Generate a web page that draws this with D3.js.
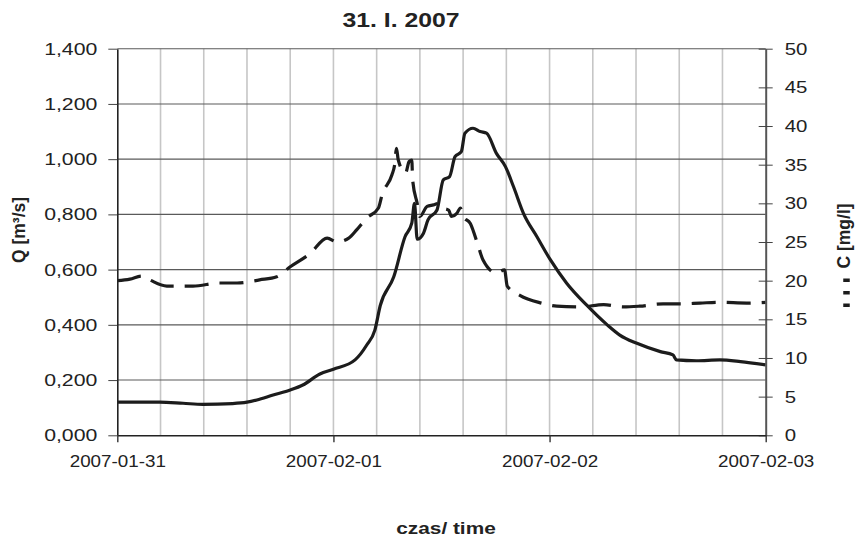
<!DOCTYPE html>
<html>
<head>
<meta charset="utf-8">
<script src="https://cdn.jsdelivr.net/npm/d3@7"></script>
<style>
  html, body { margin: 0; padding: 0; background: #fff; }
  svg { display: block; }
  text { font-family: "Liberation Sans", Arial, sans-serif; fill: #222; }
</style>
</head>
<body>
<svg id="chart" width="855" height="536"></svg>
<script>
// Hours since 2007-01-31 00:00 and discharge Q [m3/s] (solid line)
const qHours = [0, 4.7, 7.3, 9.5, 12.8, 14.4, 15.5, 17.3, 19.2, 20.6, 22.5, 24.0, 26.4, 27.7, 28.6, 29.2,
  30.7, 31.95, 32.7, 33.0, 33.3, 34.0, 34.5, 35.5, 36.2, 36.9, 37.5, 38.2, 38.6, 39.5, 40.3, 41.0,
  42.1, 43.1, 44.0, 45.1, 46.6, 48.1, 49.9, 52.1, 54.4, 55.8, 57.7, 60.3, 61.7, 62.1, 64.3, 66.9, 69.2, 72];
const qValues = [0.120, 0.120, 0.116, 0.112, 0.115, 0.120, 0.128, 0.146, 0.164, 0.182, 0.222, 0.239, 0.273, 0.327, 0.381, 0.470,
  0.574, 0.719, 0.768, 0.840, 0.710, 0.732, 0.780, 0.816, 0.925, 0.937, 1.009, 1.027, 1.094, 1.112, 1.100, 1.094,
  1.021, 0.973, 0.900, 0.804, 0.719, 0.635, 0.551, 0.472, 0.400, 0.363, 0.333, 0.303, 0.291, 0.273, 0.270, 0.273, 0.267, 0.255];

// Hours and concentration C [mg/l] (dashed line)
const cHours = [0, 1.4, 2.7, 3.6, 5.5, 8.4, 11.4, 13.3, 15.8, 17.7, 19.2, 21.4, 23.3, 24.4, 25.7, 26.6,
  27.7, 29.0, 29.4, 30.5, 30.8, 31.0, 31.2, 32.0, 32.4, 32.7, 32.8, 33.3, 33.6, 34.4, 35.1, 35.7,
  36.2, 36.8, 37.1, 37.7, 38.1, 38.4, 39.2, 40.1, 40.6, 42.1, 43.0, 43.3, 44.7, 47.1, 48.8, 51.4,
  54.0, 56.2, 58.0, 60.6, 62.5, 64.7, 66.9, 69.9, 72];
const cValues = [20.0, 20.2, 20.6, 20.1, 19.3, 19.3, 19.7, 19.7, 20.1, 20.5, 21.8, 23.5, 25.5, 25.0, 25.5, 26.6,
  28.1, 29.4, 31.1, 33.7, 35.0, 37.1, 35.6, 33.9, 35.4, 35.6, 33.0, 30.0, 28.3, 29.6, 29.8, 30.0,
  29.4, 29.1, 28.3, 28.7, 29.4, 28.3, 27.4, 24.4, 22.7, 21.0, 21.4, 19.3, 18.1, 17.1, 16.7, 16.6,
  16.9, 16.6, 16.7, 17.0, 17.0, 17.1, 17.2, 17.1, 17.2];

const dateLabels = ["2007-01-31", "2007-02-01", "2007-02-02", "2007-02-03"];
const qTicks = [0, 0.2, 0.4, 0.6, 0.8, 1.0, 1.2, 1.4];
const cTicks = [0, 5, 10, 15, 20, 25, 30, 35, 40, 45, 50];

const margin = { left: 117.3, right: 855 - 765.7, top: 48.7, bottom: 536 - 435.3 };
const width = 855, height = 536;
const plotW = width - margin.left - margin.right;
const plotH = height - margin.top - margin.bottom;

const svg = d3.select("#chart");
const g = svg.append("g").attr("transform", `translate(${margin.left},${margin.top})`);

const x = d3.scaleLinear().domain([0, 72]).range([0, plotW]);
const yQ = d3.scaleLinear().domain([0, 1.4]).range([plotH, 0]);
const yC = d3.scaleLinear().domain([0, 50]).range([plotH, 0]);

// stretch text horizontally, the scanned figure is wider than plain Arial
function stretch(sel, factor) {
    sel.each(function () {
        const len = this.getComputedTextLength();
        d3.select(this).attr("textLength", len * factor).attr("lengthAdjust", "spacingAndGlyphs");
    });
}

// Vertical grid every 0.2 day
g.append("g").selectAll("line")
    .data(d3.range(1, 15).map(i => i * 4.8))
    .join("line")
    .attr("x1", d => x(d)).attr("x2", d => x(d))
    .attr("y1", 0).attr("y2", plotH)
    .attr("stroke", "#c6c6c6").attr("stroke-width", 1.6);

// Horizontal grid
g.append("g").selectAll("line")
    .data(qTicks.slice(1))
    .join("line")
    .attr("x1", 0).attr("x2", plotW)
    .attr("y1", d => yQ(d)).attr("y2", d => yQ(d))
    .attr("stroke", "#5a5a5a").attr("stroke-width", 1.1);

// Series
const qLine = d3.line().x((d, i) => x(qHours[i])).y(d => yQ(d)).curve(d3.curveMonotoneX);
const cLine = d3.line().x((d, i) => x(cHours[i])).y(d => yC(d)).curve(d3.curveMonotoneX);

g.append("path")
    .datum(cValues)
    .attr("d", cLine)
    .attr("fill", "none")
    .attr("stroke", "#1c1c1c")
    .attr("stroke-width", 3.2)
    .attr("stroke-dasharray", "24,11")
    .attr("stroke-linejoin", "round");

g.append("path")
    .datum(qValues)
    .attr("d", qLine)
    .attr("fill", "none")
    .attr("stroke", "#1c1c1c")
    .attr("stroke-width", 3.2)
    .attr("stroke-linejoin", "round");

// Left axis
const yAxisL = d3.axisLeft(yQ)
    .tickValues(qTicks)
    .tickFormat(d => d3.format(".3f")(d).replace(".", ","))
    .tickSize(9).tickSizeOuter(0).tickPadding(11);
const gl = g.append("g").call(yAxisL);
gl.select(".domain").attr("stroke", "#222").attr("stroke-width", 1.6);
gl.selectAll(".tick line").attr("stroke", "#444");
gl.selectAll("text").style("font-size", "17px").attr("fill", "#222");
stretch(gl.selectAll("text"), 1.25);

// Right axis (cross ticks)
const yAxisR = d3.axisRight(yC)
    .tickValues(cTicks)
    .tickSize(7).tickSizeOuter(0).tickPadding(12);
const gr = g.append("g").attr("transform", `translate(${plotW},0)`).call(yAxisR);
gr.select(".domain").attr("stroke", "#555").attr("stroke-width", 2);
gr.selectAll(".tick line").attr("x1", -7).attr("stroke", "#444");
gr.selectAll("text").style("font-size", "17px").attr("fill", "#222");
stretch(gr.selectAll("text"), 1.2);

// Bottom axis
const xAxis = d3.axisBottom(x)
    .tickValues([0, 24, 48, 72])
    .tickFormat((d, i) => dateLabels[i])
    .tickSize(7).tickSizeOuter(0).tickPadding(13);
const gx = g.append("g").attr("transform", `translate(0,${plotH})`).call(xAxis);
gx.select(".domain").attr("stroke", "#222").attr("stroke-width", 1.6);
gx.selectAll(".tick line").attr("stroke", "#333").attr("stroke-width", 1.4);
gx.selectAll("text").style("font-size", "16.5px").attr("fill", "#222");
stretch(gx.selectAll("text"), 1.14);

// Title
const title = svg.append("text")
    .attr("x", 401).attr("y", 27)
    .attr("text-anchor", "middle")
    .style("font-size", "21px").style("font-weight", "bold")
    .text("31. I. 2007");
stretch(title, 1.18);

// X axis title
const xTitle = svg.append("text")
    .attr("x", 446).attr("y", 534)
    .attr("text-anchor", "middle")
    .style("font-size", "16px").style("font-weight", "bold")
    .text("czas/ time");
stretch(xTitle, 1.3);

// Left axis title
svg.append("text")
    .attr("transform", "translate(25,230) rotate(-90)")
    .attr("text-anchor", "middle")
    .style("font-size", "17.5px").style("font-weight", "bold")
    .text("Q [m³/s]");

// Right axis title with dashed key
svg.append("text")
    .attr("transform", "translate(850,236) rotate(-90)")
    .attr("text-anchor", "middle")
    .style("font-size", "17.5px").style("font-weight", "bold")
    .text("C [mg/l]");

svg.append("line")
    .attr("x1", 846.5).attr("x2", 846.5)
    .attr("y1", 307).attr("y2", 277)
    .attr("stroke", "#1c1c1c")
    .attr("stroke-width", 6.5)
    .attr("stroke-dasharray", "3.5,9");
</script>
</body>
</html>
